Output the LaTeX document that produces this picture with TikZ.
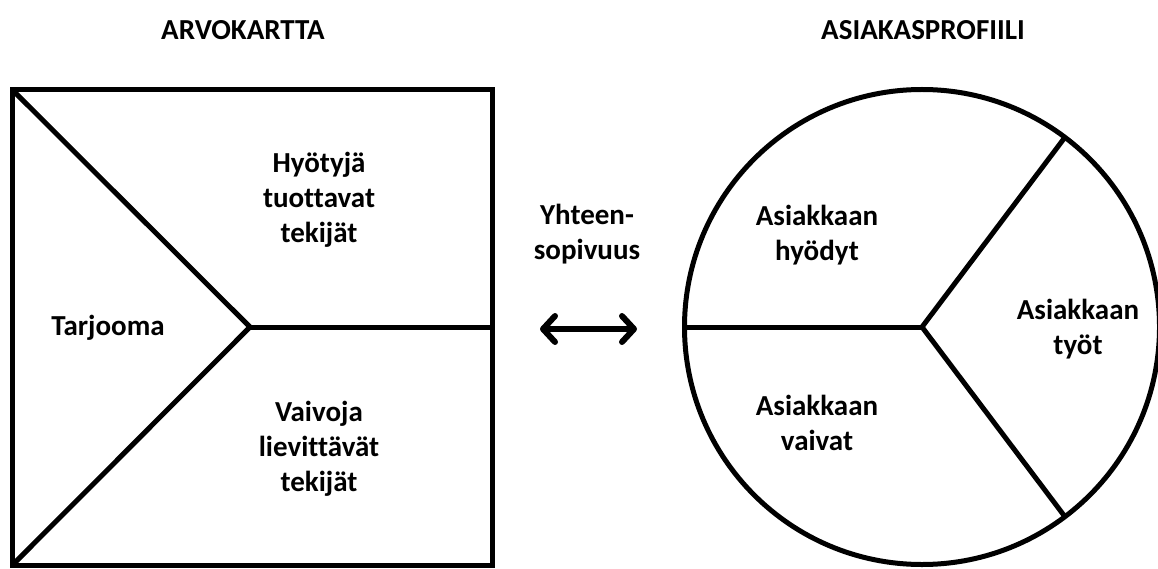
\documentclass[tikz,border=0pt]{standalone}
\usepackage{fontspec}
\setmainfont{Carlito}[Ligatures=NoCommon]
\usetikzlibrary{arrows.meta}
\begin{document}
\begin{tikzpicture}[x=1pt,y=-1pt,
  outline/.style={line width=5pt,line join=miter},
  label/.style={font=\fontsize{29}{35}\selectfont\bfseries,align=center,inner sep=0pt},
  title/.style={font=\fontsize{29}{34}\selectfont\bfseries,inner sep=0pt}]
  \useasboundingbox (0,0) rectangle (1158,569);

  % value map: square split into three parts
  \coordinate (tl) at (12.5,90);
  \coordinate (br) at (492,565);
  \coordinate (bl) at (12.5,565);
  \coordinate (mr) at (492,327);
  \coordinate (vy) at (250,327);
  \draw[outline] (tl) rectangle (br);
  \draw[outline] (tl) -- (vy) -- (bl);
  \draw[outline] (vy) -- (mr);

  % customer profile: circle split into three sectors
  \coordinate (cc) at (922,327);
  \draw[outline] (cc) circle (237.5);
  \coordinate (cl) at (684.5,327);
  \draw[outline] (cl) -- (cc);
  \draw[outline] (cc) -- ++(53:237.5) coordinate (cu);
  \draw[outline] (cc) -- ++(-53:237.5) coordinate (cd);

  % titles
  \node[title] (t1) at (243,30) {ARVOKARTTA};
  \node[title] (t2) at (923,30) {ASIAKASPROFIILI};

  % value map labels
  \node[label] (tarj) at (108,328) {Tarjooma};
  \node[label] (hyot) at (319,200) {Hyötyjä\\tuottavat\\tekijät};
  \node[label] (vaiv) at (319,449) {Vaivoja\\lievittävät\\tekijät};

  % fit
  \node[label] (fit) at (587,234) {Yhteen-\\sopivuus};
  \coordinate (al) at (540,329);
  \coordinate (ar) at (637,329);
  \draw[line width=6pt,line cap=round,
        {Straight Barb[length=12pt,width=26pt,line cap=round,line join=round]}-{Straight Barb[length=12pt,width=26pt,line cap=round,line join=round]}]
        (al) -- (ar);

  % customer profile labels
  \node[label] (ahy) at (817,235) {Asiakkaan\\hyödyt};
  \node[label] (aty) at (1078,329) {Asiakkaan\\työt};
  \node[label] (ava) at (817,423) {Asiakkaan\\vaivat};
\end{tikzpicture}
\end{document}
